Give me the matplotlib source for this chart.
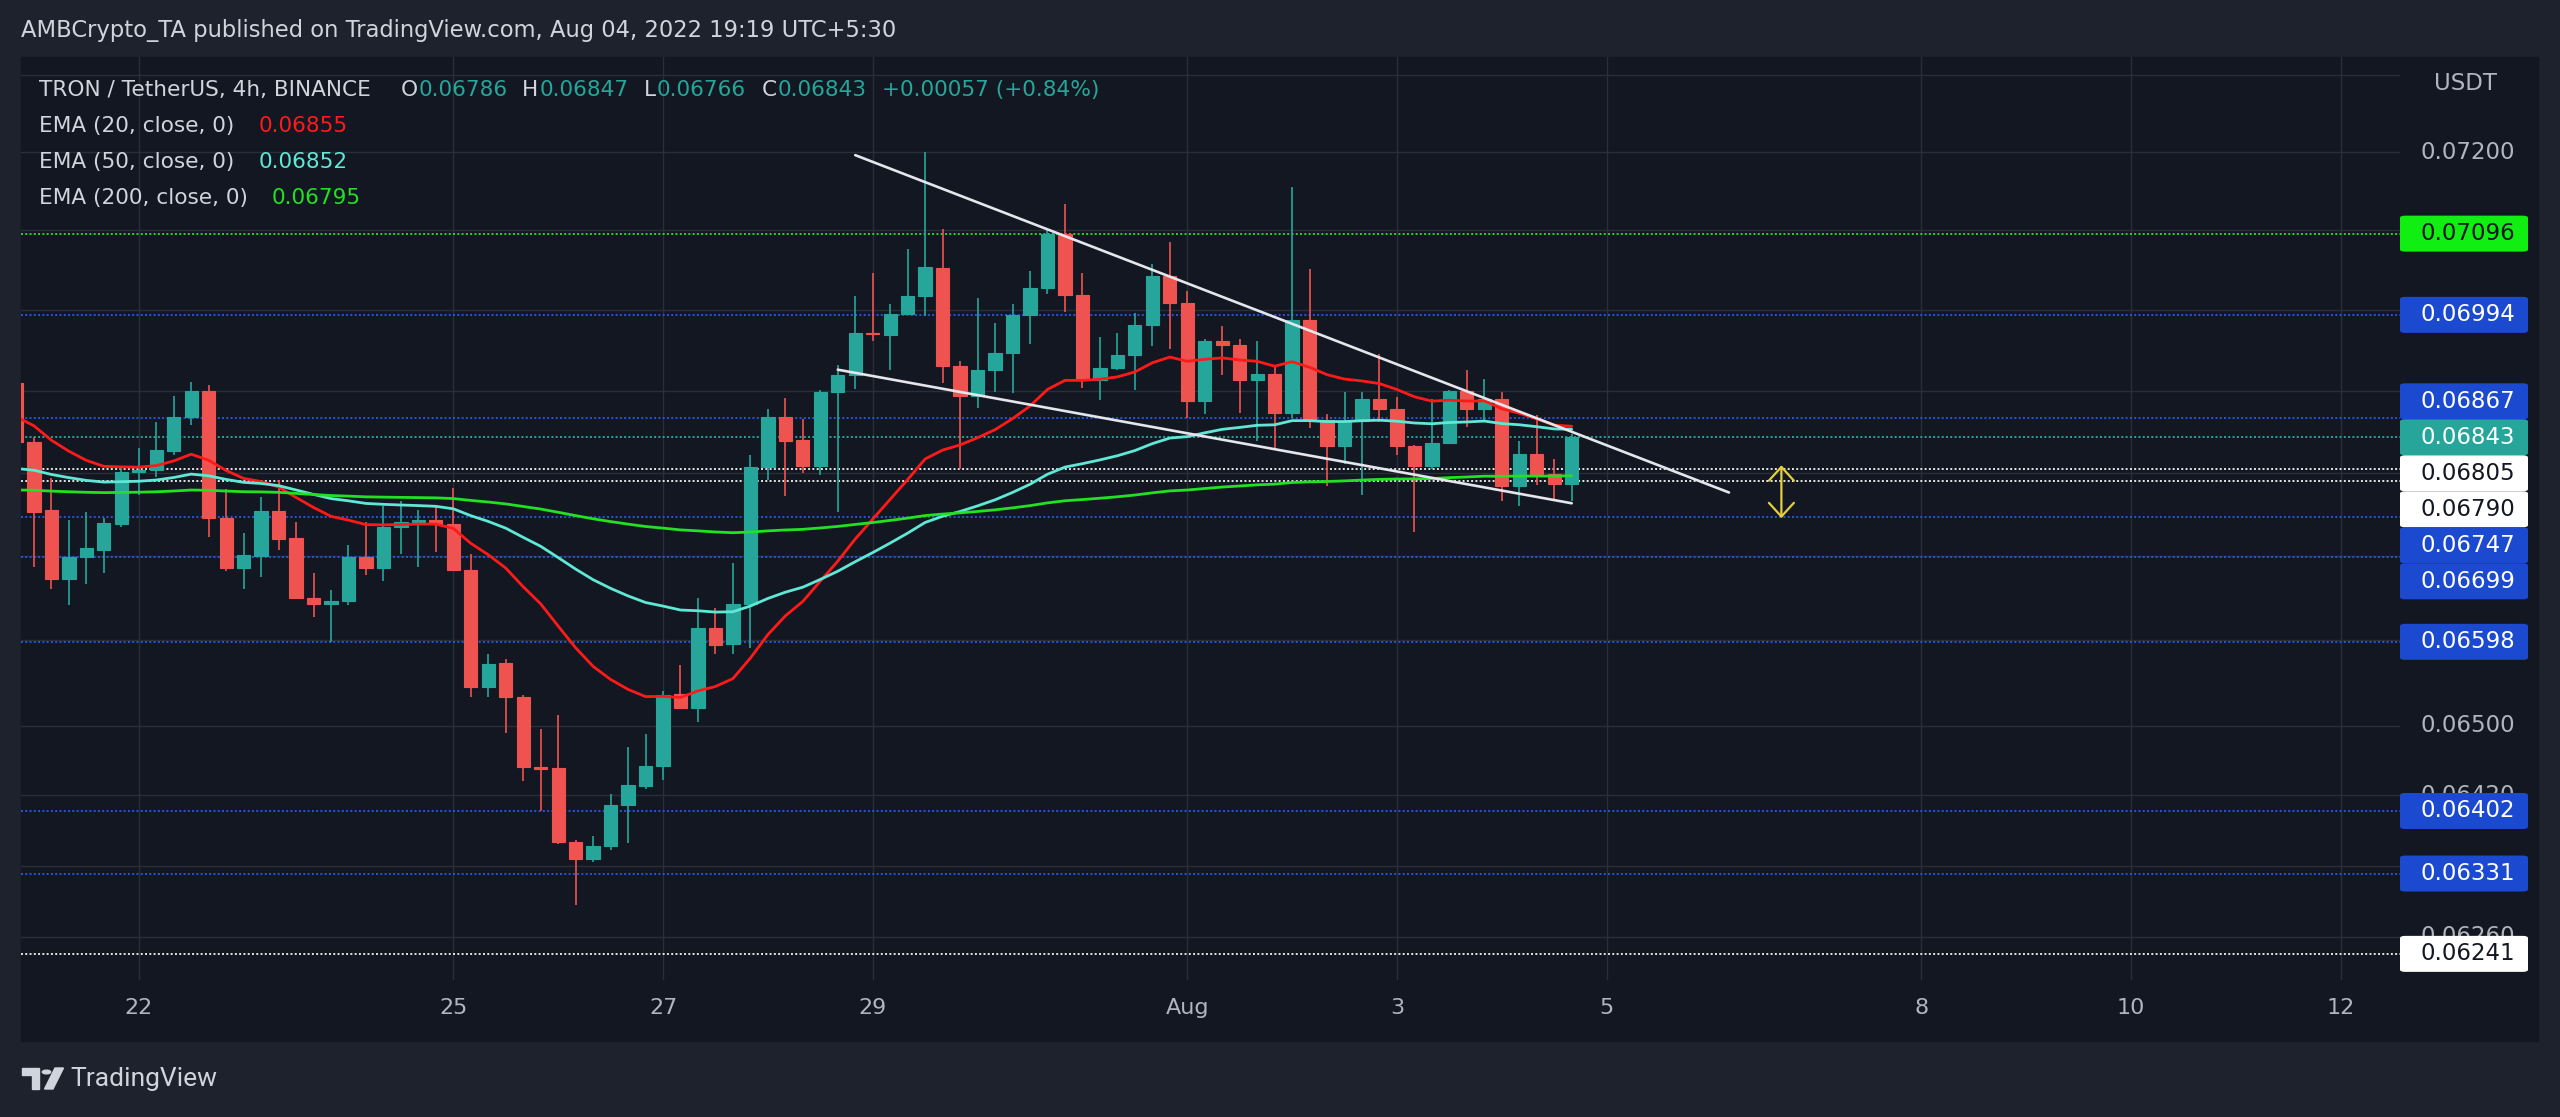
import matplotlib.pyplot as plt
import numpy as np
import pandas as pd
from matplotlib.patches import FancyBboxPatch, Rectangle, Circle, Polygon
from matplotlib.ticker import FixedLocator, NullLocator, NullFormatter

plt.rcParams['font.family'] = ['DejaVu Sans']

W, H = 2560, 1117

# TRON / TetherUS 4h candles (BINANCE), chart time in UTC+5:30
start_time = '2022-07-20 21:30'
opens = [0.06910, 0.06837, 0.06755, 0.06672, 0.06699, 0.06707, 0.06738, 0.06801, 0.06803, 0.06826,
         0.06868, 0.06900, 0.06745, 0.06685, 0.06700, 0.06754, 0.06721, 0.06650, 0.06643, 0.06646,
         0.06699, 0.06686, 0.06735, 0.06741, 0.06743, 0.06738, 0.06683, 0.06545, 0.06573, 0.06534,
         0.06452, 0.06451, 0.06367, 0.06348, 0.06362, 0.06409, 0.06431, 0.06454, 0.06537, 0.06521,
         0.06614, 0.06595, 0.06643, 0.06807, 0.06868, 0.06840, 0.06808, 0.06898, 0.06920, 0.06972,
         0.06969, 0.06995, 0.07018, 0.07053, 0.06931, 0.06894, 0.06925, 0.06946, 0.06994, 0.07028,
         0.07095, 0.07019, 0.06913, 0.06928, 0.06944, 0.06981, 0.07042, 0.07009, 0.06887, 0.06962,
         0.06957, 0.06913, 0.06921, 0.06873, 0.06988, 0.06864, 0.06833, 0.06863, 0.06890, 0.06878,
         0.06832, 0.06808, 0.06836, 0.06900, 0.06877, 0.06890, 0.06784, 0.06823, 0.06798, 0.06786]
highs = [0.06915, 0.06843, 0.06793, 0.06743, 0.06753, 0.06745, 0.06806, 0.06830, 0.06862, 0.06894,
         0.06911, 0.06907, 0.06780, 0.06727, 0.06771, 0.06791, 0.06741, 0.06679, 0.06659, 0.06713,
         0.06741, 0.06760, 0.06766, 0.06755, 0.06758, 0.06782, 0.06702, 0.06584, 0.06578, 0.06536,
         0.06496, 0.06513, 0.06369, 0.06373, 0.06421, 0.06475, 0.06490, 0.06541, 0.06571, 0.06650,
         0.06638, 0.06691, 0.06821, 0.06877, 0.06891, 0.06865, 0.06901, 0.06932, 0.07018, 0.07046,
         0.07007, 0.07076, 0.07200, 0.07102, 0.06937, 0.07015, 0.06984, 0.07007, 0.07049, 0.07102,
         0.07133, 0.07047, 0.06967, 0.06971, 0.06996, 0.07058, 0.07085, 0.07024, 0.06964, 0.06980,
         0.06964, 0.06962, 0.06930, 0.07155, 0.07051, 0.06872, 0.06899, 0.06899, 0.06945, 0.06892,
         0.06834, 0.06890, 0.06901, 0.06925, 0.06914, 0.06898, 0.06838, 0.06870, 0.06816, 0.06847]
lows = [0.06830, 0.06687, 0.06660, 0.06642, 0.06666, 0.06679, 0.06735, 0.06773, 0.06795, 0.06821,
        0.06858, 0.06723, 0.06682, 0.06661, 0.06675, 0.06707, 0.06648, 0.06627, 0.06598, 0.06641,
        0.06677, 0.06670, 0.06702, 0.06687, 0.06705, 0.06682, 0.06534, 0.06534, 0.06492, 0.06436,
        0.06402, 0.06364, 0.06296, 0.06344, 0.06358, 0.06366, 0.06427, 0.06437, 0.06520, 0.06504,
        0.06584, 0.06584, 0.06591, 0.06791, 0.06772, 0.06800, 0.06797, 0.06752, 0.06902, 0.06962,
        0.06926, 0.06994, 0.06993, 0.06910, 0.06805, 0.06879, 0.06899, 0.06897, 0.06958, 0.07020,
        0.06997, 0.06904, 0.06889, 0.06925, 0.06901, 0.06955, 0.06952, 0.06866, 0.06872, 0.06919,
        0.06873, 0.06839, 0.06829, 0.06866, 0.06854, 0.06784, 0.06811, 0.06773, 0.06862, 0.06821,
        0.06729, 0.06804, 0.06835, 0.06855, 0.06862, 0.06766, 0.06760, 0.06785, 0.06766, 0.06766]
closes = [0.06837, 0.06753, 0.06672, 0.06699, 0.06709, 0.06739, 0.06801, 0.06803, 0.06827, 0.06868,
          0.06900, 0.06745, 0.06685, 0.06701, 0.06754, 0.06720, 0.06650, 0.06643, 0.06646, 0.06699,
          0.06686, 0.06735, 0.06741, 0.06743, 0.06738, 0.06683, 0.06545, 0.06572, 0.06534, 0.06452,
          0.06450, 0.06367, 0.06348, 0.06362, 0.06409, 0.06432, 0.06454, 0.06536, 0.06521, 0.06614,
          0.06594, 0.06643, 0.06807, 0.06868, 0.06839, 0.06808, 0.06898, 0.06920, 0.06972, 0.06970,
          0.06995, 0.07018, 0.07054, 0.06930, 0.06894, 0.06925, 0.06946, 0.06994, 0.07028, 0.07095,
          0.07019, 0.06913, 0.06928, 0.06944, 0.06981, 0.07042, 0.07009, 0.06887, 0.06962, 0.06957,
          0.06913, 0.06921, 0.06873, 0.06988, 0.06864, 0.06833, 0.06863, 0.06890, 0.06878, 0.06832,
          0.06808, 0.06836, 0.06900, 0.06877, 0.06890, 0.06784, 0.06823, 0.06798, 0.06786, 0.06843]

# EMA settings; value at the first candle, the rest follows from closes
ema_periods = [20, 50, 200]
ema_first = [0.06868, 0.06805, 0.06779]
ema_legend = [0.06855, 0.06852, 0.06795]   # as printed in the chart legend
ema_colors = ['#ff1a1a', '#5fe8d6', '#22e022']

# horizontal levels drawn by the author (price, kind)
levels = [0.07096, 0.06994, 0.06867, 0.06843, 0.06805, 0.06790, 0.06747, 0.06699,
          0.06598, 0.06402, 0.06331, 0.06241]
level_kinds = ['green', 'blue', 'blue', 'last', 'white', 'white', 'blue', 'blue',
               'blue', 'blue', 'blue', 'white']

grid_prices = [0.0730, 0.0720, 0.0710, 0.0700, 0.0690, 0.0680, 0.0670, 0.0660,
               0.0650, 0.0642, 0.0634, 0.0626]
# price-scale labels that are not hidden behind the level tags
axis_labels = [0.0720, 0.0650, 0.0642, 0.0626]

tick_days = ['2022-07-22', '2022-07-25', '2022-07-27', '2022-07-29', '2022-08-01',
             '2022-08-03', '2022-08-05', '2022-08-08', '2022-08-10', '2022-08-12']
tick_labels = ['22', '25', '27', '29', 'Aug', '3', '5', '8', '10', '12']

# falling wedge trend lines and target arrow (time, price)
upper_line = [('2022-07-28 21:30', 0.07196), ('2022-08-06 05:30', 0.06776)]
lower_line = [('2022-07-28 17:30', 0.06926), ('2022-08-04 17:30', 0.06763)]
arrow_pts = [('2022-08-06 17:30', 0.06809), ('2022-08-06 17:30', 0.06745)]

BG_OUT = '#1e222d'
BG = '#131722'
GRID = '#2a2e39'
UP = '#26a69a'
DOWN = '#ef5350'
TXT = '#d1d4dc'
AXT = '#b2b5be'
BLUE = '#1b4ad0'
LIME = '#11ee11'


def fx(px):
    return px / W


def fy(py):
    return 1 - py / H


def ema(values, period, first):
    a = 2 / (period + 1)
    out = [first]
    for v in values[1:]:
        out.append(a * v + (1 - a) * out[-1])
    return np.array(out)


n = len(closes)
o = np.array(opens)
h = np.array(highs)
l = np.array(lows)
c = np.array(closes)
times = pd.date_range(start_time, periods=n + 80, freq='4h')
x = np.arange(n)


def tpos(t):
    return times.get_loc(pd.Timestamp(t))


fig = plt.figure(figsize=(W / 100, H / 100), dpi=100, facecolor=BG_OUT)
fig.add_artist(Rectangle((fx(21), fy(1041)), fx(2538 - 21), (1041 - 57) / H,
                         transform=fig.transFigure, color=BG, zorder=-5))

ax = fig.add_axes([fx(21), fy(980), fx(2400 - 21), (980 - 57) / H])
ax.set_facecolor(BG)
ax.set_yscale('log')
ax.set_ylim(0.06212, 0.07323)
ax.set_xlim(0.26, 136.4)
for s in ax.spines.values():
    s.set_visible(False)

ax.yaxis.set_major_locator(FixedLocator(grid_prices))
ax.yaxis.set_minor_locator(NullLocator())
ax.yaxis.set_major_formatter(NullFormatter())
ax.yaxis.set_minor_formatter(NullFormatter())
day_pos = [int(np.argmax(times.normalize() == pd.Timestamp(d))) for d in tick_days]
ax.set_xticks(day_pos)
ax.set_xticklabels(tick_labels)
ax.tick_params(axis='y', length=0, labelleft=False)
ax.tick_params(axis='x', length=0, pad=13, labelsize=16, labelcolor=AXT)
ax.grid(True, color=GRID, lw=1.0, zorder=0)
ax.set_axisbelow(True)

# author levels
lvl_color = {'green': '#22dd22', 'blue': '#2455e6', 'white': '#e6e6e6', 'last': UP}
for p, k in zip(levels, level_kinds):
    ax.axhline(p, color=lvl_color[k], lw=1.4, ls=(0, (1, 1.2)), zorder=2)

# candles
cols = np.where(c >= o, UP, DOWN)
ax.vlines(x, l, h, colors=cols, lw=1.2, zorder=3)
ax.bar(x, np.abs(c - o), bottom=np.minimum(o, c), width=0.76, color=cols,
       edgecolor=cols, lw=0.8, zorder=4)

# EMAs
for per, first, col in zip(ema_periods, ema_first, ema_colors):
    ax.plot(x, ema(c, per, first), color=col, lw=2.0, zorder=5, solid_capstyle='round')

# wedge lines
for seg in (upper_line, lower_line):
    ax.plot([tpos(seg[0][0]), tpos(seg[1][0])], [seg[0][1], seg[1][1]],
            color='#e4e6ec', lw=1.9, zorder=6, solid_capstyle='round')

ax.annotate('', xy=(tpos(arrow_pts[1][0]), arrow_pts[1][1]),
            xytext=(tpos(arrow_pts[0][0]), arrow_pts[0][1]),
            arrowprops=dict(arrowstyle='<->,head_length=0.55,head_width=0.5', color='#e3cf3a',
                            lw=1.6, shrinkA=0, shrinkB=0, mutation_scale=18), zorder=7)

# price axis: scale labels first, then level tags on top
AXFS = 16.5
for p in axis_labels:
    yd = ax.transData.transform((0, p))[1]
    fig.text(fx(2468), yd / H, f'{p:.5f}', ha='center', va='center', color=AXT,
             fontsize=AXFS, zorder=1)
fig.text(fx(2466), fy(84), 'USDT', ha='center', va='center', color=AXT, fontsize=AXFS, zorder=1)

ypix = [ax.transData.transform((0, p))[1] for p in levels]
box_h = 36
anchor = level_kinds.index('last')
pos = list(ypix)
prev = pos[anchor]
for i in sorted([i for i in range(len(levels)) if levels[i] > levels[anchor]], key=lambda i: levels[i]):
    pos[i] = max(pos[i], prev + box_h)
    prev = pos[i]
prev = pos[anchor]
for i in sorted([i for i in range(len(levels)) if levels[i] < levels[anchor]], key=lambda i: -levels[i]):
    pos[i] = min(pos[i], prev - box_h)
    prev = pos[i]

box_style = {'green': (LIME, '#131722'), 'blue': (BLUE, 'white'),
             'white': ('white', '#131722'), 'last': (UP, 'white')}
for p, k, yd in zip(levels, level_kinds, pos):
    fc, tc = box_style[k]
    fig.add_artist(FancyBboxPatch((fx(2400), (yd - box_h / 2) / H), fx(128), box_h / H,
                                  boxstyle='round,pad=0,rounding_size=0.002',
                                  transform=fig.transFigure, fc=fc, ec='none', zorder=2))
    fig.text(fx(2468), yd / H, f'{p:.5f}', ha='center', va='center', color=tc,
             fontsize=AXFS, zorder=3)

# header and legend
fig.text(fx(21), fy(31), 'AMBCrypto_TA published on TradingView.com, Aug 04, 2022 19:19 UTC+5:30',
         ha='left', va='center', color=TXT, fontsize=16.3)

renderer = fig.canvas.get_renderer()


def put_row(x0, y0, parts):
    xx = x0
    for txt, col, gap in parts:
        t = fig.text(fx(xx), fy(y0), txt, ha='left', va='center', color=col,
                     fontsize=15.6, zorder=8)
        bb = t.get_window_extent(renderer=renderer)
        xx += bb.width + gap


chg = c[-1] - o[-1]
put_row(39, 90, [('TRON / TetherUS, 4h, BINANCE', TXT, 30),
                 ('O', TXT, 1), (f'{o[-1]:.5f}', UP, 14),
                 ('H', TXT, 1), (f'{h[-1]:.5f}', UP, 15),
                 ('L', TXT, 1), (f'{l[-1]:.5f}', UP, 16),
                 ('C', TXT, 1), (f'{c[-1]:.5f}', UP, 15),
                 (f'+{chg:.5f} (+{chg / o[-1] * 100:.2f}%)', UP, 0)])
for i, (per, col) in enumerate(zip(ema_periods, ema_colors)):
    put_row(39, 126 + 36 * i, [(f'EMA ({per}, close, 0)', TXT, 24),
                               (f'{ema_legend[i]:.5f}', col, 0)])

# TradingView logo
logo = '#d1d4dc'
fig.add_artist(Polygon([(fx(22), fy(1068)), (fx(39), fy(1068)), (fx(39), fy(1089)),
                        (fx(32), fy(1089)), (fx(32), fy(1075)), (fx(22), fy(1075))],
                       closed=True, transform=fig.transFigure, color=logo))
fig.add_artist(Circle((fx(46.5), fy(1072)), 4.2 / W, transform=fig.transFigure, color=logo))
fig.add_artist(Polygon([(fx(55), fy(1068)), (fx(63.5), fy(1068)), (fx(53), fy(1089)),
                        (fx(44.5), fy(1089))], closed=True, transform=fig.transFigure, color=logo))
fig.text(fx(70), fy(1079), 'TradingView', ha='left', va='center', color=logo, fontsize=19,
         family=['Roboto', 'DejaVu Sans'])

fig.savefig('out.png', dpi=100, facecolor=BG_OUT)
